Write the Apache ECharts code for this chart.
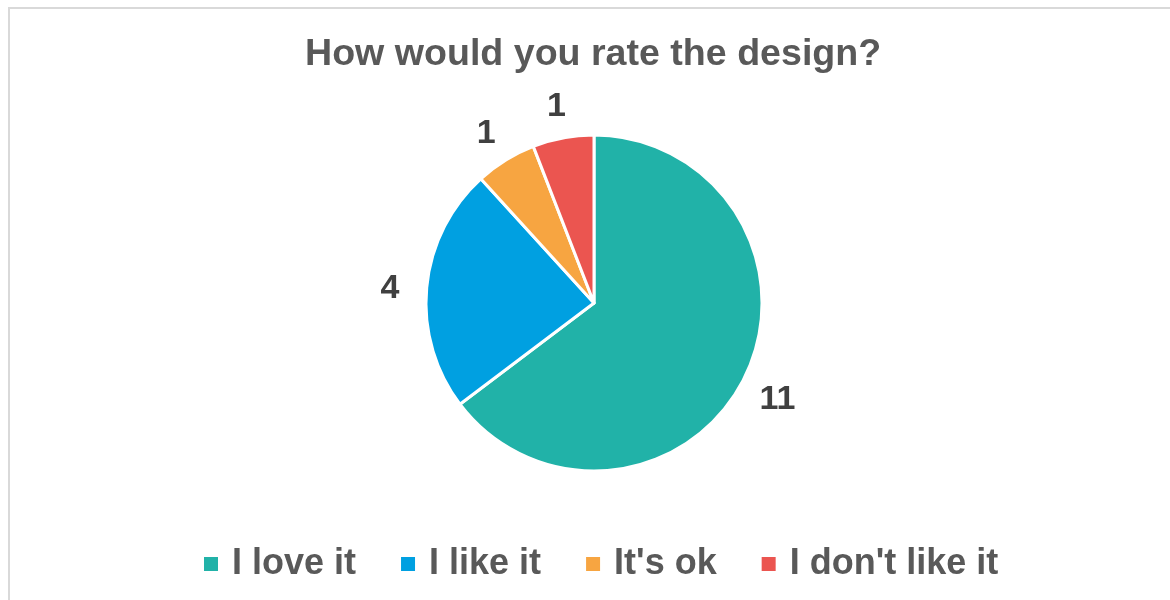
<!DOCTYPE html>
<html>
<head>
<meta charset="utf-8">
<script src="https://cdn.jsdelivr.net/npm/echarts@6/dist/echarts.min.js"></script>
<style>
  html, body { margin: 0; padding: 0; background: #ffffff; }
  #frame { position: absolute; left: 8px; top: 7px; width: 2000px; height: 2000px;
           border-left: 2px solid #d9d9d9; border-top: 2px solid #d9d9d9; box-sizing: border-box; }
  #chart { position: absolute; left: 0; top: 0; width: 1170px; height: 600px; }
</style>
</head>
<body>
<div id="frame"></div>
<div id="chart"></div>
<script>
const titleText = 'How would you rate the design?';
const categories = ['I love it', 'I like it', "It's ok", "I don't like it"];
const values = [11, 4, 1, 1];
const colors = ['#21B2A8', '#00A0E1', '#F7A541', '#EB5550'];

const chart = echarts.init(document.getElementById('chart'), null, { renderer: 'canvas' });
const pieData = categories.map((c, i) => ({ name: c, value: values[i], itemStyle: { color: colors[i] } }));
const labelData = categories.map((c, i) => ({ name: c, value: values[i] }));

chart.setOption({
  backgroundColor: 'transparent',
  title: {
    text: titleText,
    left: 300,
    top: 31,
    textStyle: { fontFamily: 'Liberation Sans', fontWeight: 'bold', fontSize: 37.6, color: '#595959' }
  },
  legend: {
    data: categories,
    left: 197,
    top: 541,
    icon: 'rect',
    itemWidth: 16,
    itemHeight: 16,
    itemGap: 43,
    textStyle: { fontFamily: 'Liberation Sans', fontWeight: 'bold', fontSize: 36, color: '#595959', padding: [0, 0, 0, 8] }
  },
  series: [
    {
      type: 'pie',
      center: [594, 303],
      radius: 168,
      startAngle: 90,
      clockwise: true,
      label: { show: false },
      labelLine: { show: false },
      itemStyle: { borderColor: '#ffffff', borderWidth: 3 },
      emphasis: { disabled: true },
      data: pieData
    },
    {
      type: 'pie',
      center: [594, 303],
      radius: [190, 214],
      startAngle: 90,
      clockwise: true,
      silent: true,
      itemStyle: { color: 'transparent' },
      label: {
        show: true, position: 'inside', formatter: '{c}', offset: [0, 5],
        fontFamily: 'Liberation Sans', fontWeight: 'bold', fontSize: 34, color: '#404040'
      },
      labelLine: { show: false },
      emphasis: { disabled: true },
      data: labelData
    }
  ]
});
</script>
</body>
</html>
